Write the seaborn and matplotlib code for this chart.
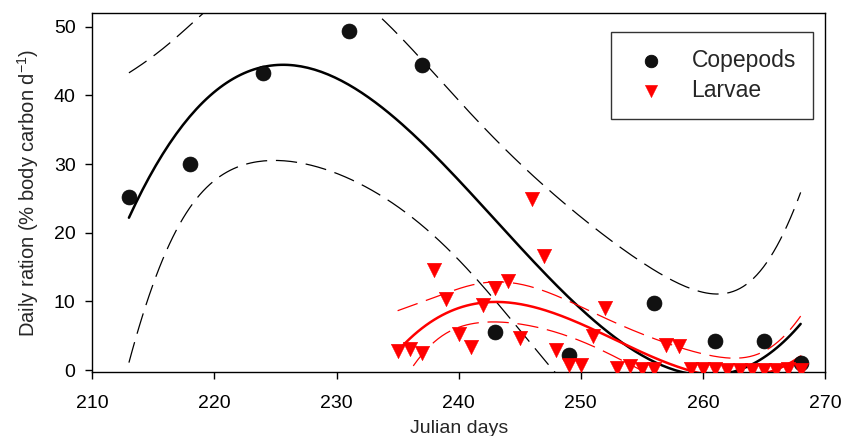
import numpy as np
import pandas as pd
import matplotlib
matplotlib.use("Agg")
import matplotlib.pyplot as plt
import seaborn as sns

# Daily ration data
COPEPOD_DAY = [213, 218, 224, 231, 237, 243, 249, 256, 261, 265, 268]
COPEPOD_RATION = [25.2, 30.0, 43.3, 49.4, 44.4, 5.5, 2.2, 9.8, 4.3, 4.3, 1.0]

LARVAE_DAY = list(range(235, 269))
LARVAE_RATION = [2.8, 3.1, 2.5, 14.6, 10.4, 5.2, 3.4, 9.4, 11.9, 12.9,
                 4.6, 24.9, 16.6, 2.9, 0.7, 0.7, 5.0, 9.1, 0.3, 0.6,
                 0.1, 0.1, 3.6, 3.5, 0.2, 0.1, 0.2, 0.0, 0.0, 0.0,
                 0.0, 0.0, 0.2, 0.0]

X_TICKS = [210, 220, 230, 240, 250, 260, 270]
Y_TICKS = [0, 10, 20, 30, 40, 50]

# two-sided 95% t quantiles for the residual degrees of freedom used here
T975 = {7: 2.365, 30: 2.042}


def cubic_fit(x, y, n=200):
    """Cubic least-squares fit with 95% confidence band of the mean."""
    x = np.asarray(x, float)
    y = np.asarray(y, float)
    x0 = x.mean()
    X = np.vander(x - x0, 4)
    beta, *_ = np.linalg.lstsq(X, y, rcond=None)
    resid = y - X @ beta
    dof = len(x) - 4
    s2 = resid @ resid / dof
    XtX_inv = np.linalg.inv(X.T @ X)
    xs = np.linspace(x.min(), x.max(), n)
    Xs = np.vander(xs - x0, 4)
    fit = Xs @ beta
    se = np.sqrt(s2 * np.einsum("ij,jk,ik->i", Xs, XtX_inv, Xs))
    t = T975.get(dof, 2.0)
    return xs, fit, fit - t * se, fit + t * se


sns.set_style("ticks")
plt.rcParams["font.family"] = ["Liberation Sans", "DejaVu Sans"]
plt.rcParams["mathtext.default"] = "regular"

fig = plt.figure(figsize=(8.42, 4.36), dpi=100)
ax = fig.add_axes([0.1096, 0.1461, 0.8703, 0.8248])

dash = (0, (17, 7))

# ── copepod cubic fit + 95% band ──
xs, fit, lo, hi = cubic_fit(COPEPOD_DAY, COPEPOD_RATION)
sns.lineplot(x=xs, y=fit, color="black", lw=1.8, ax=ax, sort=False)
sns.lineplot(x=xs, y=lo, color="black", lw=0.9, ls=dash, ax=ax, sort=False)
sns.lineplot(x=xs, y=hi, color="black", lw=0.9, ls=dash, ax=ax, sort=False)

# ── larvae cubic fit + 95% band ──
xs, fit, lo, hi = cubic_fit(LARVAE_DAY, LARVAE_RATION)
sns.lineplot(x=xs, y=fit, color="red", lw=1.8, ax=ax, sort=False)
sns.lineplot(x=xs, y=lo, color="red", lw=0.9, ls=dash, ax=ax, sort=False)
sns.lineplot(x=xs, y=hi, color="red", lw=0.9, ls=dash, ax=ax, sort=False)

cop = pd.DataFrame({"day": COPEPOD_DAY, "ration": COPEPOD_RATION})
lar = pd.DataFrame({"day": LARVAE_DAY, "ration": LARVAE_RATION})
sns.scatterplot(data=cop, x="day", y="ration", marker="o", s=115,
                color="#111111", edgecolor="black", linewidth=0.5,
                label="Copepods", ax=ax, zorder=5)
sns.scatterplot(data=lar, x="day", y="ration", marker="v", s=110,
                color="red", edgecolor="red", linewidth=0.3,
                label="Larvae", ax=ax, zorder=5)

ax.set_xlim(210, 270)
ax.set_ylim(-0.33, 52.04)
ax.set_xticks(X_TICKS)
ax.set_yticks(Y_TICKS)
ax.tick_params(direction="out", length=5, width=1, labelsize=14,
               colors="black")
ax.tick_params(axis="x", pad=11)
ax.tick_params(axis="y", pad=7)
for sp in ax.spines.values():
    sp.set_visible(True)
    sp.set_linewidth(1.0)
    sp.set_color("black")

ax.set_xlabel("Julian days", fontsize=14, labelpad=6)
ax.set_ylabel("Daily ration (% body carbon d$^{-1}$)", fontsize=14.5, labelpad=9)

leg = ax.legend(loc="upper right", bbox_to_anchor=(0.9836, 0.947),
                borderaxespad=0, fontsize=16.5, frameon=True, fancybox=False,
                edgecolor="black", handletextpad=0.75, borderpad=0.75,
                labelspacing=0.3, handlelength=2.0, markerscale=0.85)
leg.get_frame().set_linewidth(1.0)

fig.savefig("out.png", dpi=100)
